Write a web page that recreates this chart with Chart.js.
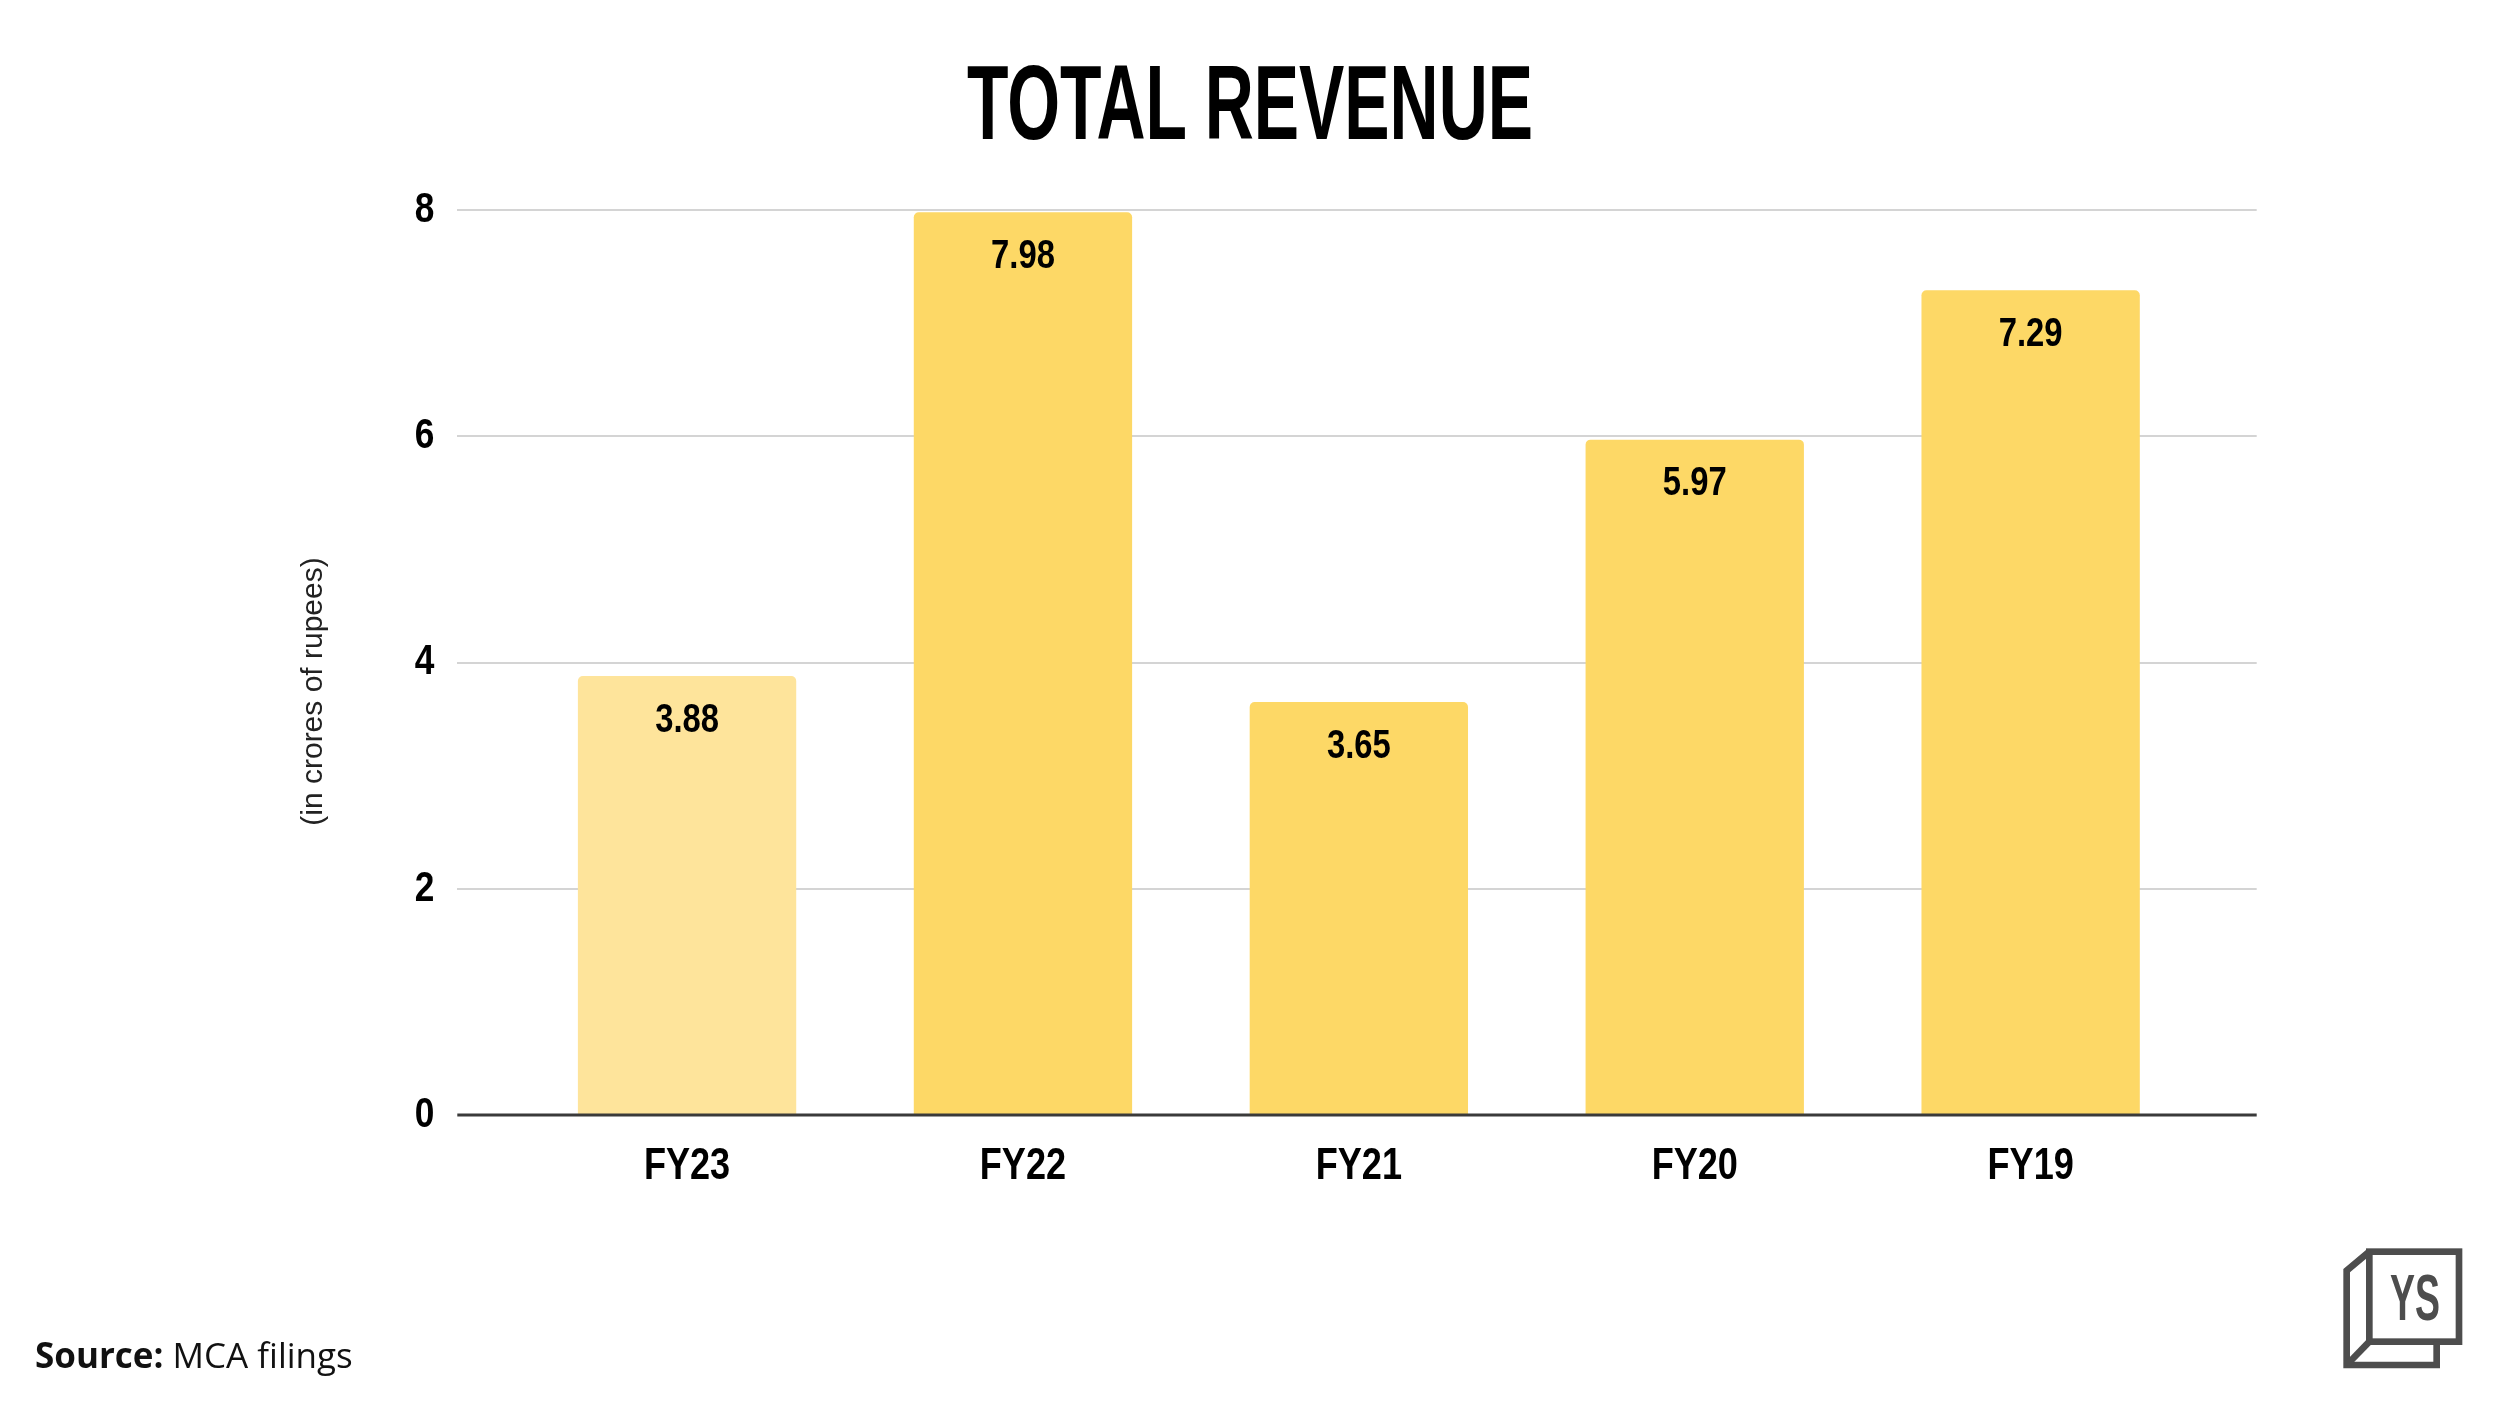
<!DOCTYPE html>
<html>
<head>
<meta charset="utf-8">
<script src="https://cdn.jsdelivr.net/npm/chart.js@4.4.1/dist/chart.umd.min.js"></script>
<style>
  html, body { margin:0; padding:0; background:#fff; width:2500px; height:1406px; overflow:hidden; }
  #wrap { position:relative; width:2500px; height:1406px; }
  canvas { position:absolute; left:0; top:0; }
  .overlay { position:absolute; left:0; top:0; }
</style>
</head>
<body>
<div id="wrap">
  <canvas id="c" width="2500" height="1406"></canvas>
  <svg class="overlay" width="2500" height="1406">
    <text x="1250" y="139" text-anchor="middle" textLength="566" lengthAdjust="spacingAndGlyphs"
      font-family="'Liberation Sans', Arial, sans-serif"
      font-weight="bold" font-size="106" fill="#000">TOTAL REVENUE</text>
    <text transform="translate(322,691.5) rotate(-90)" text-anchor="middle"
      font-family="'Liberation Sans', Arial, sans-serif" font-size="30" fill="#222">(in crores of rupees)</text>
    <text x="35" y="1368" font-family="'Open Sans', sans-serif" font-size="35" fill="#111"><tspan font-weight="bold">Source:</tspan> MCA filings</text>
  </svg>
  <svg class="overlay" style="left:2280px;top:1220px" width="220" height="180" viewBox="0 0 660 540">
    <g fill="none" stroke="#4d4d4d" stroke-width="20" stroke-linejoin="miter">
      <rect x="268" y="95" width="269" height="270"/>
      <path d="M 268 95 L 200 152 L 200 435 L 470 435 L 470 365"/>
      <path d="M 200 435 L 268 365"/>
    </g>
    <text x="330" y="300" textLength="150" lengthAdjust="spacingAndGlyphs"
      font-family="'Liberation Sans', Arial, sans-serif"
      font-weight="bold" font-size="195" fill="#4d4d4d">YS</text>
  </svg>
</div>
<script>
const categories = ['FY23', 'FY22', 'FY21', 'FY20', 'FY19'];
const values = [3.88, 7.98, 3.65, 5.97, 7.29];
const valueLabels = ['3.88', '7.98', '3.65', '5.97', '7.29'];
const yTicks = [0, 2, 4, 6, 8];
const barColors = ['#FEE49B', '#FDD866', '#FDD866', '#FDD866', '#FDD866'];

const FONT = '"Liberation Sans", Arial, sans-serif';
const NARROW_SCALE = 0.82; // Arial Narrow is Arial compressed to ~82%

// Draw scale tick labels horizontally compressed (narrow face), still through the library's axis code.
const narrowTicks = {
  id: 'narrowTicks',
  beforeDraw(chart) {
    Object.values(chart.scales).forEach(scale => {
      if (scale.__narrowed) return;
      scale.__narrowed = true;
      const orig = scale.drawLabels;
      scale.drawLabels = function (area) {
        const ctx = this.ctx;
        const rot = ctx.rotate;
        ctx.rotate = function (a) { rot.call(this, a); this.scale(NARROW_SCALE, 1); };
        try { orig.call(this, area); } finally { ctx.rotate = rot; }
      };
    });
  }
};

const labelPlugin = {
  id: 'labelPlugin',
  afterDatasetsDraw(chart) {
    const ctx = chart.ctx;
    const meta = chart.getDatasetMeta(0);
    const area = chart.chartArea;
    ctx.save();
    const y0 = chart.scales.y.getPixelForValue(0);
    ctx.strokeStyle = '#3a3a3a';
    ctx.lineWidth = 3;
    ctx.beginPath();
    ctx.moveTo(area.left, y0);
    ctx.lineTo(area.right, y0);
    ctx.stroke();
    ctx.font = 'bold 40px ' + FONT;
    ctx.fillStyle = '#000';
    ctx.textAlign = 'center';
    ctx.textBaseline = 'alphabetic';
    meta.data.forEach((bar, i) => {
      ctx.save();
      ctx.translate(bar.x, bar.y + 55.7);
      ctx.scale(NARROW_SCALE, 1);
      ctx.fillText(valueLabels[i], 0, 0);
      ctx.restore();
    });
    ctx.restore();
  }
};

new Chart(document.getElementById('c'), {
  type: 'bar',
  data: {
    datasets: [{
      data: values.map((v, i) => ({ x: i, y: v })),
      backgroundColor: barColors,
      borderWidth: 0,
      borderRadius: { topLeft: 5, topRight: 5, bottomLeft: 0, bottomRight: 0 },
      borderSkipped: false,
      barPercentage: 0.65,
      categoryPercentage: 1.0
    }]
  },
  options: {
    responsive: false,
    devicePixelRatio: 1,
    animation: false,
    layout: { padding: { left: 357.3, right: 243.3, top: 210, bottom: 191 } },
    plugins: { legend: { display: false }, tooltip: { enabled: false }, title: { display: false } },
    scales: {
      x: {
        type: 'linear',
        offset: false,
        min: -0.684,
        max: 4.673,
        afterBuildTicks: (s) => { s.ticks = categories.map((c, i) => ({ value: i })); },
        afterFit: (s) => { s.height = 100; },
        ticks: {
          callback: (v) => categories[v],
          autoSkip: false,
          maxRotation: 0,
          padding: 25,
          color: '#000',
          font: { family: FONT, size: 44, weight: 'bold' }
        },
        grid: { display: false, drawTicks: false, offset: false },
        border: { display: false }
      },
      y: {
        min: 0,
        max: 8,
        afterBuildTicks: (s) => { s.ticks = yTicks.map(v => ({ value: v })); },
        afterFit: (s) => { s.width = 100; },
        ticks: {
          padding: 23,
          color: '#000',
          font: { family: FONT, size: 43, weight: 'bold' }
        },
        grid: {
          drawTicks: false,
          color: (c) => (c.tick && c.tick.value === 0) ? 'rgba(0,0,0,0)' : '#d4d4d4',
          lineWidth: 2
        },
        border: { display: false }
      }
    }
  },
  plugins: [narrowTicks, labelPlugin]
});
</script>
</body>
</html>
